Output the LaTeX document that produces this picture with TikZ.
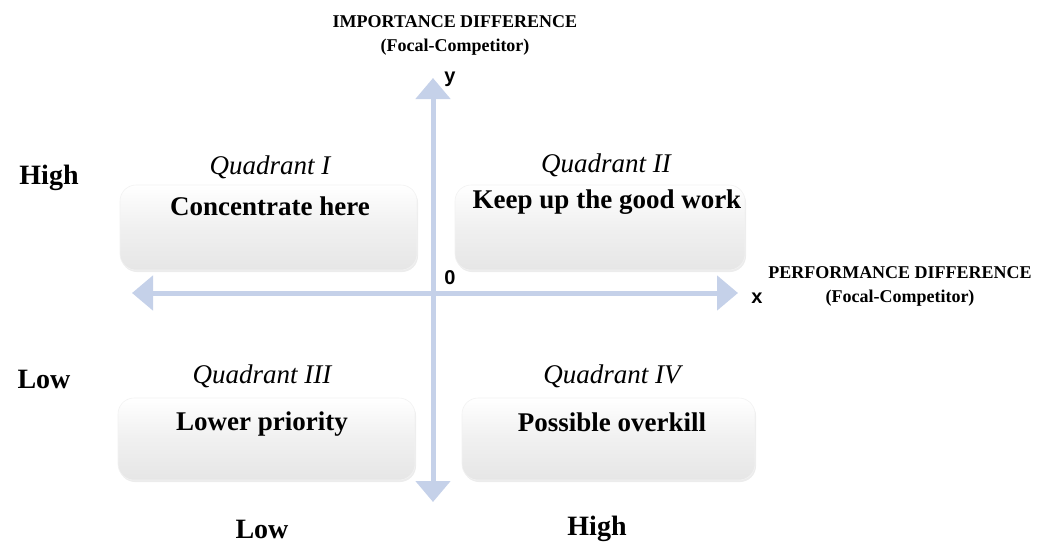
\documentclass[tikz,border=0pt]{standalone}
\usepackage{fontspec}
\setmainfont{Liberation Serif}
\newfontfamily\axfont{Liberation Sans}
\usetikzlibrary{arrows.meta,shadows}
\definecolor{axisblue}{RGB}{197,209,233}
\definecolor{boxgray}{RGB}{230,230,230}
\tikzset{
  quadbox/.style={rounded corners=16pt, top color=white, bottom color=boxgray, middle color=boxgray!60, draw=white!90!gray, line width=0.6pt, drop shadow={shadow xshift=1pt, shadow yshift=-2pt, opacity=0.15}},
  axisline/.style={draw=axisblue, line width=5pt, {Triangle[width=34pt,length=21pt]}-{Triangle[width=34pt,length=21pt]}},
  qtitle/.style={font=\itshape\fontsize{27}{30}\selectfont, anchor=base, inner sep=0pt},
  qtext/.style={font=\bfseries\fontsize{27}{30}\selectfont, anchor=base, inner sep=0pt},
  sidelabel/.style={font=\bfseries\fontsize{28}{30}\selectfont, anchor=base, inner sep=0pt},
  axlabel/.style={font=\axfont\bfseries\fontsize{20}{22}\selectfont, anchor=center},
  captionlabel/.style={font=\bfseries\fontsize{18}{24}\selectfont, align=center, anchor=base, inner sep=0pt}
}
\begin{document}
\begin{tikzpicture}[x=1pt,y=-1pt]
\useasboundingbox (0,0) rectangle (1047,544);
% boxes
\path[quadbox] (120,185) rectangle (417,270);
\path[quadbox] (455,185) rectangle (745,270);
\path[quadbox] (118,398) rectangle (415,480);
\path[quadbox] (462,398) rectangle (755,480);
% axes
\coordinate (xl) at (132,293);
\coordinate (xr) at (738,293);
\coordinate (yt) at (433,78);
\coordinate (yb) at (433,502);
\draw[axisline] (xl) -- (xr);
\draw[axisline] (yb) -- (yt);
% quadrant texts
\node[qtitle] (q1t) at (270,174) {Quadrant I};
\node[qtext] (q1) at (270,215) {Concentrate here};
\node[qtitle] (q2t) at (606,172) {Quadrant II};
\node[qtext] (q2) at (607,208) {Keep up the good work};
\node[qtitle] (q3t) at (262,383) {Quadrant III};
\node[qtext] (q3) at (262,430) {Lower priority};
\node[qtitle] (q4t) at (612,383) {Quadrant IV};
\node[qtext] (q4) at (612,431) {Possible overkill};
% axis labels
\node[axlabel] (ylab) at (450,79) {y};
\node[axlabel] (zero) at (450,278) {0};
\node[axlabel] (xlab) at (757,298) {x};
\node[captionlabel] (imp) at (455,51) {IMPORTANCE DIFFERENCE\\(Focal-Competitor)};
\node[captionlabel] (perf) at (900,302) {PERFORMANCE DIFFERENCE\\(Focal-Competitor)};
\node[sidelabel] (hi) at (49,184) {High};
\node[sidelabel] (lo) at (44,388) {Low};
\node[sidelabel] (blo) at (262,538) {Low};
\node[sidelabel] (bhi) at (597,535) {High};
\end{tikzpicture}
\end{document}
